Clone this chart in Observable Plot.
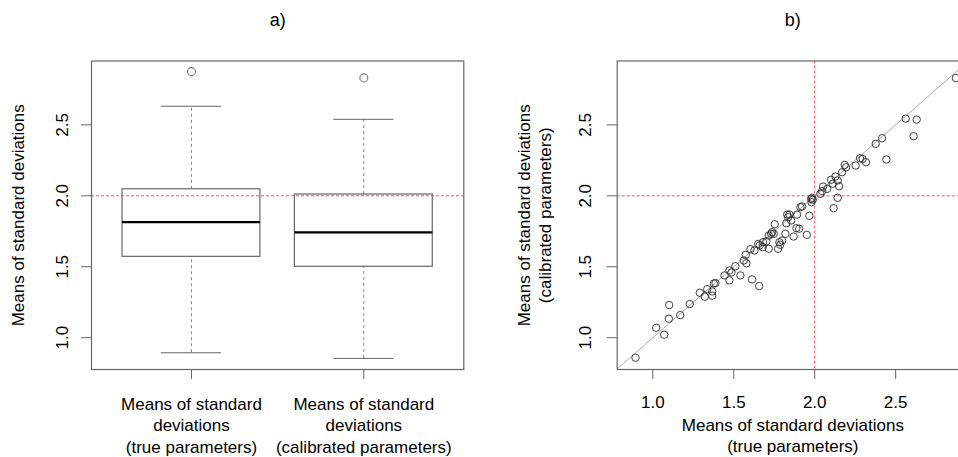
<!DOCTYPE html>
<html>
<head>
<meta charset="utf-8">
<script src="https://cdn.jsdelivr.net/npm/d3@7"></script>
<script src="https://cdn.jsdelivr.net/npm/@observablehq/plot@0.6"></script>
<style>
  html, body { margin: 0; padding: 0; background: #fff; overflow: hidden; }
  #wrap { position: relative; width: 958px; height: 457px; overflow: hidden; background: #fff; }
  #wrap svg { position: absolute; top: 0; }
</style>
</head>
<body>
<div id="wrap"></div>
<script>
// ---------- data ----------
const panelTitles = ["a)", "b)"];
const yTicks = [1.0, 1.5, 2.0, 2.5];
const xTicks = [1.0, 1.5, 2.0, 2.5];
const referenceValue = 2.0;

const boxLabels = [
  "Means of standard\ndeviations\n(true parameters)",
  "Means of standard\ndeviations\n(calibrated parameters)"
];
const boxLower  = [0.894, 0.854];
const boxQ1     = [1.570, 1.500];
const boxMedian = [1.814, 1.742];
const boxQ3     = [2.046, 2.009];
const boxUpper  = [2.631, 2.539];
const boxOutliers = [[2.875], [2.831]];

const yLabelA = "Means of standard deviations";
const xLabelB = "Means of standard deviations\n(true parameters)";
const yLabelB = "Means of standard deviations\n(calibrated parameters)";

const trueVals = [
  0.893, 1.021, 1.070, 1.101, 1.099, 1.169, 1.228, 1.290, 1.321, 1.336,
  1.367, 1.367, 1.377, 1.387, 1.443, 1.473, 1.473, 1.486, 1.510, 1.541,
  1.562, 1.578, 1.574, 1.613, 1.657, 1.603, 1.628, 1.660, 1.679, 1.702,
  1.716, 1.716, 1.737, 1.747, 1.753, 1.774, 1.782, 1.799, 1.819, 1.830,
  1.836, 1.844, 1.854, 1.825, 1.870, 1.887, 1.904, 1.891, 1.912, 1.922,
  1.951, 1.967, 1.978, 1.980, 1.988, 1.984, 2.035, 2.046, 2.052, 2.077,
  2.101, 2.111, 2.117, 2.128, 2.142, 2.142, 2.151, 2.169, 2.185, 2.194,
  2.253, 2.280, 2.296, 2.317, 2.443, 2.377, 2.416, 2.562, 2.630, 2.611,
  2.872, 1.681, 1.731, 1.787, 1.651
];
const calVals = [
  0.859, 1.070, 1.021, 1.230, 1.134, 1.159, 1.237, 1.317, 1.289, 1.342,
  1.296, 1.326, 1.382, 1.385, 1.439, 1.404, 1.474, 1.460, 1.504, 1.439,
  1.544, 1.525, 1.584, 1.411, 1.364, 1.624, 1.615, 1.650, 1.638, 1.680,
  1.627, 1.720, 1.744, 1.732, 1.800, 1.627, 1.673, 1.685, 1.732, 1.868,
  1.849, 1.868, 1.826, 1.807, 1.713, 1.772, 1.768, 1.868, 1.920, 1.925,
  1.725, 1.859, 1.979, 1.955, 1.972, 1.986, 2.014, 2.033, 2.065, 2.049,
  2.113, 2.085, 1.913, 2.136, 2.108, 1.986, 2.068, 2.166, 2.218, 2.201,
  2.213, 2.265, 2.260, 2.237, 2.256, 2.366, 2.406, 2.544, 2.537, 2.420,
  2.830, 1.673, 1.732, 1.655, 1.661
];

// ---------- derived tables ----------
const boxes = boxLabels.map((label, i) => ({
  pos: i + 1, label,
  lo: boxLower[i], q1: boxQ1[i], med: boxMedian[i], q3: boxQ3[i], hi: boxUpper[i]
}));
const outliers = boxOutliers.flatMap((vals, i) => vals.map(v => ({pos: i + 1, value: v})));
const scatter = trueVals.map((x, i) => ({x, y: calVals[i]}));

const FONT = "'Liberation Sans', Arial, Helvetica, sans-serif";
const frameColor = "#666";
const red = "#ff3b3b";
const halfBox = 0.4, halfCap = 0.175;
const yDomain = [0.776, 2.95];

// ---------- panel a ----------
const plotA = Plot.plot({
  width: 479, height: 457,
  marginLeft: 91, marginRight: 15.7, marginTop: 60.5, marginBottom: 88,
  x: {type: "linear", domain: [0.42, 2.58], axis: null},
  y: {domain: yDomain, axis: null},
  style: {fontFamily: FONT, fontSize: "17px", background: "transparent", color: "#000", overflow: "visible"},
  marks: [
    Plot.axisY({ticks: yTicks, tickSize: 10, tickFormat: () => "", label: null, stroke: frameColor}),
    Plot.axisX({ticks: [1, 2], tickSize: 10, tickFormat: () => "", label: null, stroke: frameColor}),
    Plot.text(yTicks, {y: d => d, text: d => d.toFixed(1), frameAnchor: "left", dx: -29.3,
      rotate: -90, textAnchor: "middle", lineAnchor: "middle", fill: "#000", fontSize: 17}),
    Plot.text([yLabelA], {text: d => d, frameAnchor: "left", dx: -72.7, rotate: -90,
      textAnchor: "middle", lineAnchor: "middle", fill: "#000", fontSize: 17}),
    Plot.text(boxes, {x: "pos", text: "label", frameAnchor: "bottom", dy: 55,
      lineAnchor: "middle", lineHeight: 1.25, textAnchor: "middle", fill: "#000", fontSize: 17}),
    Plot.text([panelTitles[0]], {text: d => d, frameAnchor: "top", dy: -41, lineAnchor: "middle",
      fill: "#000", fontSize: 18}),
    // whiskers
    Plot.ruleX(boxes, {x: "pos", y1: "q3", y2: "hi", stroke: "#888", strokeDasharray: "3,3"}),
    Plot.ruleX(boxes, {x: "pos", y1: "lo", y2: "q1", stroke: "#888", strokeDasharray: "3,3"}),
    Plot.ruleY(boxes, {y: "hi", x1: d => d.pos - halfCap, x2: d => d.pos + halfCap, stroke: frameColor}),
    Plot.ruleY(boxes, {y: "lo", x1: d => d.pos - halfCap, x2: d => d.pos + halfCap, stroke: frameColor}),
    // boxes
    Plot.rect(boxes, {x1: d => d.pos - halfBox, x2: d => d.pos + halfBox, y1: "q1", y2: "q3",
      fill: "none", stroke: frameColor, strokeWidth: 1.2}),
    Plot.ruleY(boxes, {y: "med", x1: d => d.pos - halfBox, x2: d => d.pos + halfBox,
      stroke: "#000", strokeWidth: 2.2}),
    Plot.dot(outliers, {x: "pos", y: "value", r: 4, stroke: "#777", strokeWidth: 1.1, fill: "none"}),
    Plot.ruleY([referenceValue], {stroke: red, strokeDasharray: "3,2", strokeWidth: 0.9}),
    Plot.frame({stroke: frameColor, strokeWidth: 1.2})
  ]
});
plotA.style.left = "0px";

// ---------- panel b ----------
const xDomainB = [0.78, 2.95];
const plotB = Plot.plot({
  width: 500, height: 457,
  marginLeft: 137.7, marginRight: 11, marginTop: 60.5, marginBottom: 88,
  x: {domain: xDomainB, axis: null},
  y: {domain: yDomain, axis: null},
  style: {fontFamily: FONT, fontSize: "17px", background: "transparent", color: "#000", overflow: "visible"},
  marks: [
    Plot.axisY({ticks: yTicks, tickSize: 10, tickFormat: () => "", label: null, stroke: frameColor}),
    Plot.axisX({ticks: xTicks, tickSize: 10, tickFormat: () => "", label: null, stroke: frameColor}),
    Plot.text(yTicks, {y: d => d, text: d => d.toFixed(1), frameAnchor: "left", dx: -31.7,
      rotate: -90, textAnchor: "middle", lineAnchor: "middle", fill: "#000", fontSize: 17}),
    Plot.text(xTicks, {x: d => d, text: d => d.toFixed(1), frameAnchor: "bottom", dy: 32.7,
      lineAnchor: "middle", fill: "#000", fontSize: 17}),
    Plot.text([xLabelB], {text: d => d, frameAnchor: "bottom", dy: 65,
      lineAnchor: "middle", lineHeight: 1.25, fill: "#000", fontSize: 17}),
    Plot.text([yLabelB], {text: d => d, frameAnchor: "left", dx: -83.4, rotate: -90,
      textAnchor: "middle", lineAnchor: "middle", lineHeight: 1.2, fill: "#000", fontSize: 17}),
    Plot.text([panelTitles[1]], {text: d => d, frameAnchor: "top", dy: -41, lineAnchor: "middle",
      fill: "#000", fontSize: 18}),
    Plot.link([xDomainB], {x1: d => d[0], y1: d => d[0], x2: d => d[1], y2: d => d[1],
      stroke: "#aaa", strokeWidth: 1}),
    Plot.ruleX([referenceValue], {stroke: red, strokeDasharray: "3,2", strokeWidth: 0.9}),
    Plot.ruleY([referenceValue], {stroke: red, strokeDasharray: "3,2", strokeWidth: 0.9}),
    Plot.dot(scatter, {x: "x", y: "y", r: 3.7, stroke: "#2a2a2a", strokeWidth: 0.9, fill: "none"}),
    Plot.frame({stroke: frameColor, strokeWidth: 1.2})
  ]
});
plotB.style.left = "479px";

const wrap = document.getElementById("wrap");
wrap.appendChild(plotA);
wrap.appendChild(plotB);
</script>
</body>
</html>
